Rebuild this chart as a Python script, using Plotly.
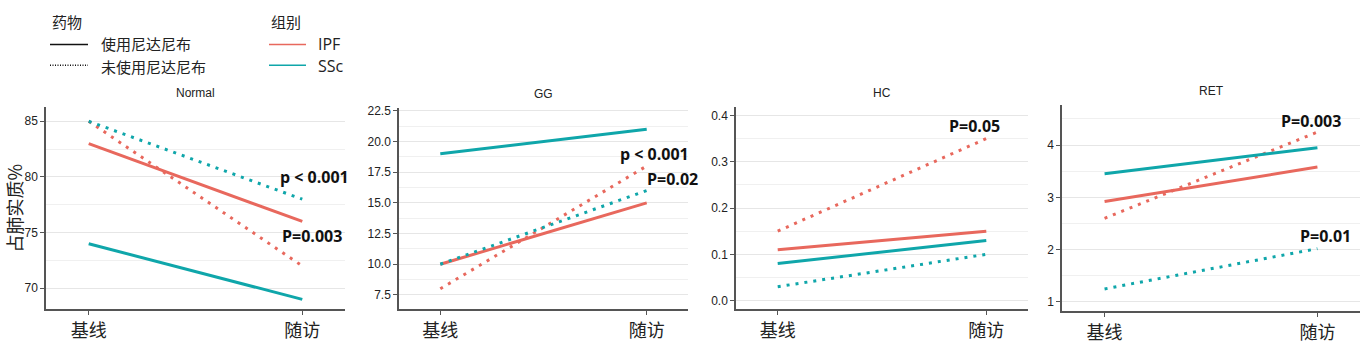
import plotly.graph_objects as go

W, H = 1366, 345

timepoints = ["基线", "随访"]
panels = ["Normal", "GG", "HC", "RET"]

# values per panel / group / drug -> [baseline, follow-up]
normal_ipf_used = [83, 76]
normal_ipf_not = [85, 72]
normal_ssc_used = [74, 69]
normal_ssc_not = [85, 78]

gg_ipf_used = [10, 15]
gg_ipf_not = [8, 18]
gg_ssc_used = [19, 21]
gg_ssc_not = [10, 16]

hc_ipf_used = [0.11, 0.15]
hc_ipf_not = [0.15, 0.35]
hc_ssc_used = [0.08, 0.13]
hc_ssc_not = [0.03, 0.10]

ret_ipf_used = [2.92, 3.58]
ret_ipf_not = [2.6, 4.25]
ret_ssc_used = [3.45, 3.95]
ret_ssc_not = [1.25, 2.02]

series = {
    "Normal": [("IPF", "used", normal_ipf_used), ("IPF", "not", normal_ipf_not),
               ("SSc", "used", normal_ssc_used), ("SSc", "not", normal_ssc_not)],
    "GG": [("IPF", "used", gg_ipf_used), ("IPF", "not", gg_ipf_not),
           ("SSc", "used", gg_ssc_used), ("SSc", "not", gg_ssc_not)],
    "HC": [("IPF", "used", hc_ipf_used), ("IPF", "not", hc_ipf_not),
           ("SSc", "used", hc_ssc_used), ("SSc", "not", hc_ssc_not)],
    "RET": [("IPF", "used", ret_ipf_used), ("IPF", "not", ret_ipf_not),
            ("SSc", "used", ret_ssc_used), ("SSc", "not", ret_ssc_not)],
}

y_ranges = {"Normal": [68.1, 86.3], "GG": [6.32, 22.74], "HC": [-0.019, 0.4186], "RET": [0.82, 4.77]}
y_ticks = {"Normal": [70, 75, 80, 85], "GG": [7.5, 10, 12.5, 15, 17.5, 20, 22.5],
           "HC": [0.0, 0.1, 0.2, 0.3, 0.4], "RET": [1, 2, 3, 4]}
y_ticktext = {"Normal": ["70", "75", "80", "85"],
              "GG": ["7.5", "10.0", "12.5", "15.0", "17.5", "20.0", "22.5"],
              "HC": ["0.0", "0.1", "0.2", "0.3", "0.4"], "RET": ["1", "2", "3", "4"]}
y_minor = {"Normal": 2.5, "GG": 1.25, "HC": 0.05, "RET": 0.5}

# pixel layout (left, right, top, bottom)
boxes = {"Normal": (46, 345, 104, 309), "GG": (399, 688, 105, 309),
         "HC": (736, 1028, 104, 309), "RET": (1062, 1360, 102, 311)}

colors = {"IPF": "#E8685D", "SSc": "#0FA6AA"}
dashes = {"used": "solid", "not": "3px,6px"}

pvals = {
    "Normal": [("p < 0.001", 314, 175), ("P=0.003", 312, 235)],
    "GG": [("p < 0.001", 654, 152), ("P=0.02", 672, 177)],
    "HC": [("P=0.05", 975, 123)],
    "RET": [("P=0.003", 1311, 118), ("P=0.01", 1325, 235)],
}


def px(x):
    return x / W


def py(y):
    return 1 - y / H


def ann(text, x, y, font, xanchor="center", angle=0):
    return dict(text=text, x=px(x), y=py(y), xref="paper", yref="paper",
                xanchor=xanchor, yanchor="middle", showarrow=False,
                textangle=angle, font=font)


fig = go.Figure()
annotations = []
shapes = []

for i, p in enumerate(panels):
    n = "" if i == 0 else str(i + 1)
    l, r, t, b = boxes[p]
    for grp, drug, vals in series[p]:
        fig.add_trace(go.Scatter(
            x=timepoints, y=vals, mode="lines",
            line=dict(color=colors[grp], width=3, dash=dashes[drug]),
            xaxis="x" + n, yaxis="y" + n, showlegend=False, hoverinfo="skip"))
    fig.layout["xaxis" + n] = dict(
        domain=[px(l), px(r)], anchor="y" + n, type="category", range=[-0.2, 1.2],
        showgrid=False, showline=True, linecolor="#555", linewidth=1.5,
        ticks="outside", ticklen=4, tickcolor="#555",
        tickfont=dict(family="Noto Sans CJK SC", size=18, color="#222"), zeroline=False)
    fig.layout["yaxis" + n] = dict(
        domain=[py(b), py(t)], anchor="x" + n, range=y_ranges[p],
        tickvals=y_ticks[p], ticktext=y_ticktext[p],
        showgrid=True, gridcolor="#E6E6E6", gridwidth=1.2,
        minor=dict(dtick=y_minor[p], tick0=0, showgrid=True, gridcolor="#F0F0F0", gridwidth=1),
        showline=True, linecolor="#555", linewidth=1.5,
        ticks="outside", ticklen=4, tickcolor="#555",
        tickfont=dict(family="Liberation Sans", size=12, color="#222"), zeroline=False)
    annotations.append(ann(p, (l + r) / 2, t - 14,
                           dict(family="Liberation Sans", size=12, color="#222")))
    for txt, cx, cy in pvals[p]:
        annotations.append(ann("<b>" + txt + "</b>", cx, cy,
                               dict(family="Open Sans", size=16, color="#111")))

# y-axis title
annotations.append(ann("占肺实质%", 14, 207,
                       dict(family="Noto Sans CJK SC", size=18, color="#222"), angle=-90))

# legend (drawn manually)
leg_font = dict(family="Noto Sans CJK SC", size=15, color="#222")
lat_font = dict(family="Open Sans", size=16, color="#222")
annotations += [
    ann("药物", 50, 18, leg_font, xanchor="left"),
    ann("使用尼达尼布", 99, 40, leg_font, xanchor="left"),
    ann("未使用尼达尼布", 99, 63, leg_font, xanchor="left"),
    ann("组别", 269, 18, leg_font, xanchor="left"),
    ann("IPF", 316, 40, lat_font, xanchor="left"),
    ann("SSc", 316, 63, lat_font, xanchor="left"),
]
shapes += [
    dict(type="line", xref="paper", yref="paper", x0=px(50), x1=px(88), y0=py(41), y1=py(41),
         line=dict(color="#111", width=1.5)),
    dict(type="line", xref="paper", yref="paper", x0=px(50), x1=px(88), y0=py(62), y1=py(62),
         line=dict(color="#111", width=1.5, dash="1px,1.5px")),
    dict(type="line", xref="paper", yref="paper", x0=px(269), x1=px(306), y0=py(41), y1=py(41),
         line=dict(color=colors["IPF"], width=1.5)),
    dict(type="line", xref="paper", yref="paper", x0=px(269), x1=px(306), y0=py(62), y1=py(62),
         line=dict(color=colors["SSc"], width=1.5)),
]

fig.update_layout(width=W, height=H, margin=dict(l=0, r=0, t=0, b=0),
                  paper_bgcolor="white", plot_bgcolor="white",
                  annotations=annotations, shapes=shapes, showlegend=False)

fig.write_html("out.html")
